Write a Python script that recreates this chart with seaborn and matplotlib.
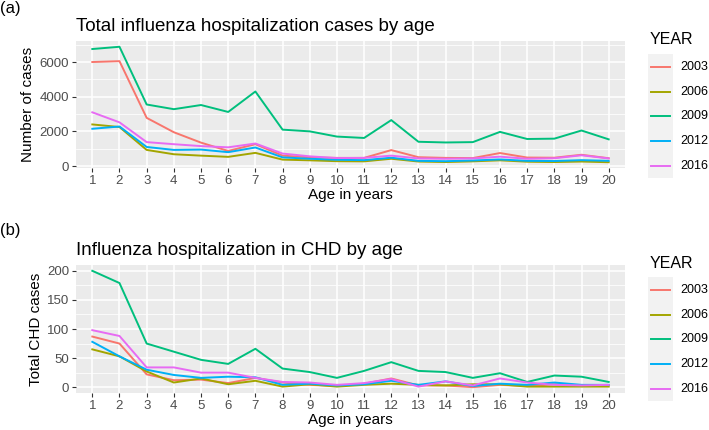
import numpy as np
import pandas as pd
import matplotlib
matplotlib.use("Agg")
import matplotlib.pyplot as plt
import seaborn as sns
from matplotlib.lines import Line2D
from matplotlib.patches import Rectangle

# data
ages = list(range(1, 21))
years = ["2003", "2006", "2009", "2012", "2016"]
colors = ["#F8766D", "#A3A500", "#00BF7D", "#00B0F6", "#E76BF3"]

total_2003 = [6000, 6050, 2780, 1950, 1350, 870, 1260, 600, 500, 470, 470, 920, 510, 470, 460, 750, 490, 480, 650, 450]
total_2006 = [2400, 2250, 930, 680, 600, 530, 760, 370, 330, 280, 270, 420, 260, 230, 270, 330, 250, 230, 260, 220]
total_2009 = [6750, 6880, 3550, 3280, 3520, 3120, 4300, 2100, 2000, 1700, 1620, 2650, 1400, 1360, 1380, 1970, 1560, 1580, 2050, 1540]
total_2012 = [2150, 2280, 1100, 930, 950, 800, 1070, 500, 420, 360, 340, 480, 300, 280, 320, 380, 300, 290, 340, 300]
total_2016 = [3100, 2520, 1380, 1260, 1150, 1080, 1300, 720, 560, 460, 470, 600, 440, 420, 440, 540, 420, 450, 620, 440]

chd_2003 = [87, 75, 22, 12, 13, 7, 16, 8, 4, 2, 6, 15, 3, 3, 0, 4, 2, 5, 3, 3]
chd_2006 = [65, 53, 27, 8, 15, 5, 11, 1, 5, 1, 4, 6, 4, 3, 5, 5, 1, 1, 1, 1]
chd_2009 = [200, 179, 75, 61, 47, 40, 66, 32, 26, 16, 28, 43, 28, 26, 16, 24, 9, 20, 18, 9]
chd_2012 = [78, 53, 30, 21, 16, 18, 17, 4, 6, 3, 5, 11, 4, 10, 2, 6, 4, 8, 4, 4]
chd_2016 = [98, 88, 34, 34, 25, 25, 16, 9, 8, 4, 7, 14, 1, 10, 3, 15, 8, 4, 3, 4]

def long_df(series):
    rows = []
    for yr, vals in zip(years, series):
        for a, v in zip(ages, vals):
            rows.append({"Age": a, "YEAR": yr, "value": v})
    return pd.DataFrame(rows)

df_total = long_df([total_2003, total_2006, total_2009, total_2012, total_2016])
df_chd = long_df([chd_2003, chd_2006, chd_2009, chd_2012, chd_2016])

plt.rcParams["font.family"] = ["Liberation Sans", "DejaVu Sans"]
fig = plt.figure(figsize=(7.09, 4.30), dpi=100)

def panel(rect, df, title, ylabel, yticks, yminor):
    ax = fig.add_axes(rect)
    ax.set_facecolor("#EBEBEB")
    sns.lineplot(data=df, x="Age", y="value", hue="YEAR", palette=colors,
                 hue_order=years, linewidth=1.4, ax=ax, legend=False)
    lo, hi = df["value"].min(), df["value"].max()
    pad = (hi - lo) * 0.05
    ax.set_ylim(lo - pad, hi + pad)
    ax.set_xlim(1 - 0.6, 20 + 0.6)
    ax.set_xticks(ages)
    ax.set_yticks(yticks)
    ax.set_yticks(yminor, minor=True)
    ax.grid(True, which="major", color="white", linewidth=1.1)
    ax.grid(True, which="minor", axis="y", color="white", linewidth=0.55)
    ax.set_axisbelow(True)
    for s in ax.spines.values():
        s.set_visible(False)
    ax.tick_params(axis="both", which="major", colors="#333333", labelcolor="#4D4D4D",
                   labelsize=9.5, length=3, width=0.8, pad=2)
    ax.tick_params(axis="both", which="minor", length=0)
    ax.set_xlabel("Age in years", fontsize=11, color="black", labelpad=1)
    ax.set_ylabel(ylabel, fontsize=11, color="black", labelpad=3)
    ax.set_title(title, fontsize=13.5, loc="left", x=0.0, pad=7)
    return ax

ax1 = panel([76 / 709, 1 - 168 / 430, 549 / 709, 127 / 430], df_total,
            "Total influenza hospitalization cases by age", "Number of cases",
            [0, 2000, 4000, 6000], [1000, 3000, 5000, 7000])
ax2 = panel([76 / 709, 1 - 393 / 430, 549 / 709, 128 / 430], df_chd,
            "Influenza hospitalization in CHD by age", "Total CHD cases",
            [0, 50, 100, 150, 200], [25, 75, 125, 175])

fig.text(0 / 709, 1 - 9 / 430, "(a)", fontsize=12, va="center", ha="left")
fig.text(0 / 709, 1 - 231 / 430, "(b)", fontsize=12, va="center", ha="left")

# legends, ggplot style
W, H = 709, 430
for top in (40, 263):
    fig.text(650 / W, 1 - top / H, "YEAR", fontsize=11.5, va="center", ha="left")
    y0 = top + 14
    fig.add_artist(Rectangle((648 / W, 1 - (y0 + 124) / H), 25 / W, 124 / H,
                             transform=fig.transFigure, facecolor="#F2F2F2",
                             edgecolor="none"))
    for i, (yr, c) in enumerate(zip(years, colors)):
        yy = y0 + 13 + i * 24.7
        fig.add_artist(Line2D([651 / W, 670 / W], [1 - yy / H, 1 - yy / H],
                              transform=fig.transFigure, color=c, linewidth=1.4))
        fig.text(680 / W, 1 - yy / H, yr, fontsize=9, va="center", ha="left")

fig.savefig("out.png", dpi=100)
